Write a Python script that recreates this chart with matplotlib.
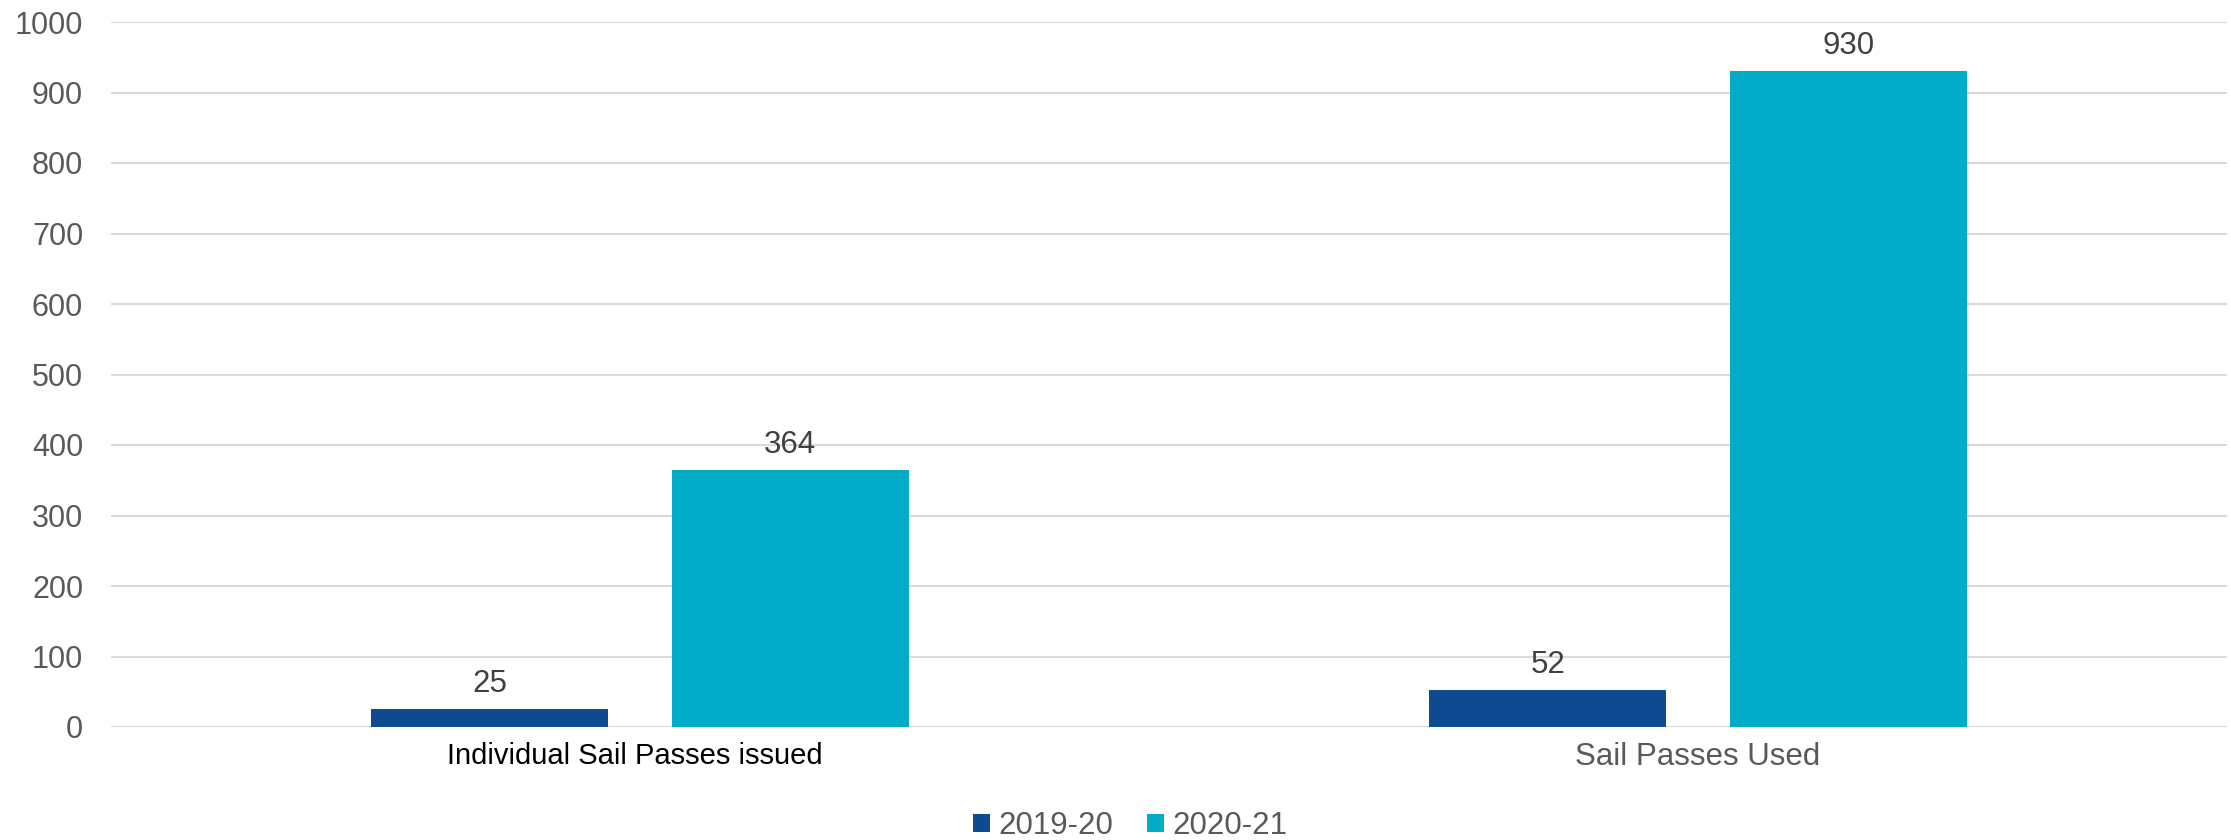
import matplotlib
matplotlib.use("Agg")
import matplotlib.pyplot as plt
from matplotlib.patches import Patch
import matplotlib.transforms as mtransforms
import numpy as np

plt.rcParams['font.family'] = ['Liberation Sans', 'DejaVu Sans']

categories = ["Individual Sail Passes issued", "Sail Passes Used"]
series_names = ["2019-20", "2020-21"]
values_2019 = [25, 52]
values_2020 = [364, 930]
colors = ["#0F4B91", "#02ACC8"]
yticks = [0, 100, 200, 300, 400, 500, 600, 700, 800, 900, 1000]

fig = plt.figure(figsize=(22.31, 8.40), dpi=100)
ax = fig.add_axes([111/2231, 1-727/840, (2227-111)/2231, (727-22)/840])

x = np.arange(len(categories))
w = 0.224
off = 0.142
for vals, c, sign in [(values_2019, colors[0], -1), (values_2020, colors[1], 1)]:
    bars = ax.bar(x + sign*off, vals, width=w, color=c, zorder=3)
    for b, v in zip(bars, vals):
        ax.annotate(str(v), (b.get_x()+b.get_width()/2, v), xytext=(0, 18.5),
                    textcoords='offset points', ha='center', va='center',
                    fontsize=22.5, color='#404040')

ax.set_xlim(-0.5, 1.5)
ax.set_ylim(0, 1000)
ax.set_yticks(yticks)
ax.set_yticklabels([str(t) for t in yticks], fontsize=22, color='#595959')
ax.yaxis.grid(True, color='#D9D9D9', linewidth=1.5, zorder=0)
ax.set_axisbelow(True)
ax.tick_params(axis='y', length=0, pad=20)
ax.set_xticks(x)
ax.set_xticklabels(categories)
ax.tick_params(axis='x', length=0, pad=11)
lbls = ax.get_xticklabels()
lbls[0].set_color('black')
lbls[0].set_fontsize(21)
lbls[0].set_transform(lbls[0].get_transform() +
                      mtransforms.ScaledTranslation(-5/100, 0, fig.dpi_scale_trans))
lbls[1].set_color('#595959')
lbls[1].set_fontsize(22.5)
for s in ax.spines.values():
    s.set_visible(False)

handles = [Patch(facecolor=c, label=n) for c, n in zip(colors, series_names)]
fig.legend(handles=handles, loc='center', bbox_to_anchor=(1130/2231, 1-826/840), ncol=2,
           frameon=False, fontsize=22.5, labelcolor='#595959', handlelength=0.55,
           handleheight=0.55, handletextpad=0.25, columnspacing=1.1)

fig.savefig("out.png", dpi=100)
